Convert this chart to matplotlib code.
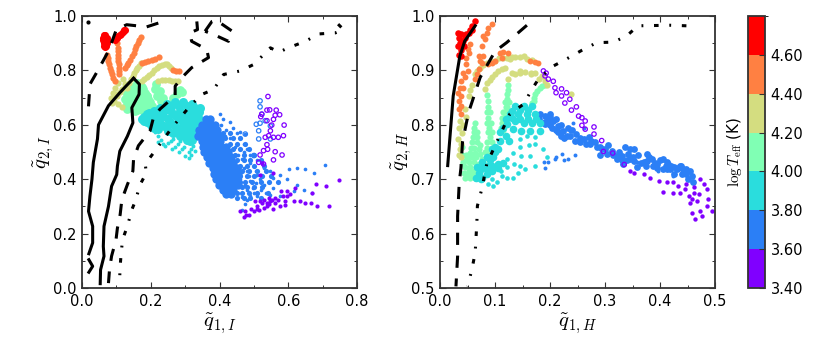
"""
q1/q2 limb darkening coefficients, I band and H band, coloured by log Teff
"""

import matplotlib
matplotlib.use("Agg")
import matplotlib.pyplot as plt
from matplotlib.cm import ScalarMappable
from matplotlib.colors import BoundaryNorm
from matplotlib.ticker import MultipleLocator, FormatStrFormatter

plt.rcParams['font.family'] = ['DejaVu Sans']
plt.rcParams['mathtext.fontset'] = 'cm'

# colour bins of log Teff
teff_edges = [3.4, 3.6, 3.8, 4.0, 4.2, 4.4, 4.6, 4.8]
teff_ticks = [3.4, 3.6, 3.8, 4.0, 4.2, 4.4, 4.6]

# ---- left panel, I band ----
i_red_x = [.063, .062, .062, .063, .065, .067, .070, .073, .073, .068, .066, .072, .097, .102, .106, .110, .114, .118, .122, .125]
i_red_y = [.930, .920, .910, .900, .890, .885, .890, .900, .920, .930, .915, .910, .910, .920, .925, .930, .935, .940, .947, .950]

i_orange_x = [.096, .091, .086, .084, .082, .079, .077, .075, .072, .108, .108, .108, .107, .106, .105, .105, .104, .104, .103,
              .125, .130, .135, .140, .145, .150, .154, .158, .162, .167, .172, .174, .184, .193, .203, .213, .224, .266, .273, .281]
i_orange_y = [.760, .772, .785, .797, .810, .822, .834, .846, .858, .785, .797, .810, .822, .834, .846, .858, .870, .883, .900,
              .810, .819, .828, .840, .852, .864, .877, .888, .900, .911, .922, .828, .831, .834, .839, .843, .850, .800, .798, .796]

i_yellow_x = [.083, .089, .096, .106, .118, .093, .106, .116, .103, .116, .088, .098, .110, .125, .132, .137, .142, .147, .151, .156, .161, .167, .172,
              .174, .181, .188, .195, .203, .210, .217, .224, .232, .240, .247, .253, .258, .222, .232, .242, .252, .261, .270, .278]
i_yellow_y = [.700, .718, .737, .755, .767, .688, .676, .667, .706, .730, .680, .712, .722, .750, .737, .752, .767, .779, .791, .800, .810, .818, .826,
              .761, .769, .777, .784, .791, .800, .810, .816, .820, .822, .822, .816, .810, .761, .763, .765, .763, .761, .761, .760]

i_green_x = [.125, .140, .159, .174, .183, .193, .203, .179, .159, .140, .130, .154, .169, .150, .169, .179, .193, .140, .132, .160, .188,
             .216, .213, .219, .229, .242, .227, .236, .266, .276, .285, .292,
             .132, .148, .165, .178, .188, .198, .190, .175, .160, .148, .135, .145, .160, .175, .150, .170, .158]
i_green_y = [.694, .730, .755, .740, .718, .694, .670, .670, .694, .682, .657, .651, .663, .712, .712, .694, .670, .710, .676, .725, .705,
             .749, .730, .706, .688, .670, .724, .697, .700, .712, .728, .722,
             .712, .740, .748, .730, .706, .682, .660, .683, .675, .690, .700, .665, .655, .655, .730, .725, .715]

i_cyan_x = [.174, .188, .208, .227, .247, .271, .295, .319, .344, .188, .213, .237, .261, .285, .310, .334, .208, .232, .256, .281, .305, .329,
            .251, .276, .300, .324, .285, .310, .329, .315,
            .181, .200, .220, .240, .260, .283, .305, .330, .200, .225, .250, .273, .298, .322, .340, .220, .244, .268, .293, .317,
            .265, .288, .312, .298, .320, .305, .335, .340, .180, .195]
i_cyan_y = [.621, .639, .651, .663, .676, .682, .685, .676, .663, .609, .621, .633, .645, .651, .651, .639, .590, .599, .609, .621, .623, .615,
            .578, .587, .594, .590, .560, .566, .560, .541,
            .615, .630, .645, .655, .665, .668, .668, .660, .600, .610, .620, .633, .637, .633, .648, .585, .592, .600, .607, .607,
            .570, .572, .578, .560, .545, .545, .600, .620, .630, .645]

i_cyan_tail_x = [.213, .222, .230, .222, .237, .242, .250, .258, .266, .261, .270, .278, .285, .281, .290, .297, .305, .300, .310, .318, .324, .310, .318, .329]
i_cyan_tail_y = [.572, .560, .545, .535, .529, .523, .532, .540, .548, .511, .520, .529, .541, .499, .510, .520, .535, .487, .500, .512, .523, .477, .488, .505]

i_blue_x = [.360, .372, .350, .362, .376, .388, .340, .352, .366, .380, .394, .338, .350, .362, .376, .390, .404, .348, .360, .374, .388, .402,
            .352, .366, .380, .394, .408, .420, .356, .370, .384, .398, .412, .426, .364, .378, .392, .406, .420, .434,
            .370, .384, .398, .412, .426, .440, .380, .394, .408, .422, .436, .450, .384, .398, .412, .426, .440, .454,
            .390, .404, .418, .432, .446, .398, .412, .426, .440, .454, .410, .424, .438, .420, .433]
i_blue_y = [.620, .620, .600, .600, .600, .600, .580, .580, .580, .580, .580, .560, .560, .560, .560, .560, .560, .540, .540, .540, .540, .540,
            .520, .520, .520, .520, .520, .520, .500, .500, .500, .500, .500, .500, .480, .480, .480, .480, .480, .480,
            .460, .460, .460, .460, .460, .460, .440, .440, .440, .440, .440, .440, .420, .420, .420, .420, .420, .420,
            .400, .400, .400, .400, .400, .380, .380, .380, .380, .380, .360, .360, .360, .345, .345]

i_blue_mid_x = [.410, .430, .415, .440, .460, .430, .450, .475, .440, .460, .485, .445, .470, .500, .450, .470, .490, .520, .460, .480, .500, .530,
                .465, .485, .510, .535, .460, .480, .500, .525, .550, .460, .475, .495, .520, .545, .570, .465, .480, .500, .525,
                .450, .465, .485, .510, .540, .450, .470, .490, .520]
i_blue_mid_y = [.570, .570, .550, .550, .550, .530, .530, .530, .510, .510, .510, .490, .490, .490, .470, .470, .470, .470, .450, .450, .450, .450,
                .430, .430, .430, .430, .410, .410, .410, .410, .410, .390, .390, .390, .390, .390, .390, .370, .370, .370, .370,
                .350, .350, .350, .350, .350, .330, .330, .330, .330]

i_blue_sparse_x = [.431, .440, .450, .460, .470, .480, .490, .410, .420, .430, .460, .475, .400, .405, .415, .425, .445, .455, .470, .465, .490, .510, .530,
                   .480, .509, .548, .625, .708, .674, .650, .601, .575, .555, .528, .497, .517, .555, .595, .625, .670, .645, .616, .575, .546, .509, .480, .465, .475, .500,
                   .470, .485, .460, .475, .490, .505, .520, .535, .490, .505, .520, .450, .465, .480]
i_blue_sparse_y = [.610, .590, .570, .550, .530, .510, .490, .620, .580, .550, .572, .566, .640, .600, .560, .520, .520, .490, .500, .474, .460, .470, .440,
                   .430, .417, .430, .442, .452, .423, .436, .436, .417, .405, .380, .368, .400, .368, .400, .380, .350, .362, .356, .337, .343, .337, .325, .288, .307, .350,
                   .440, .410, .400, .380, .395, .385, .360, .350, .340, .430, .415, .350, .335, .360]

i_blue_ring_x = [.518, .518, .523, .507, .518, .533, .548, .514, .514, .548, .475, .500]
i_blue_ring_y = [.688, .666, .639, .602, .606, .615, .596, .578, .548, .548, .566, .487]

i_purple_ring_x = [.541, .538, .546, .565, .520, .523, .562, .575, .557, .538, .552, .588, .548, .543, .533, .557, .571, .586, .538, .528, .562, .582, .514, .528, .557, .518, .540]
i_purple_ring_y = [.704, .654, .655, .654, .630, .639, .635, .637, .620, .615, .599, .599, .578, .560, .554, .554, .554, .560, .527, .505, .501, .489, .462, .456, .471, .489, .510]

i_purple_x = [.470, .485, .460, .500, .514, .510, .523, .538, .548, .562, .571, .591, .595, .580, .595, .616, .633, .620, .649, .669, .666, .684, .718, .682, .710, .747,
              .528, .519, .556, .538, .475, .504, .519, .556, .524, .510, .530, .575, .560, .545, .590, .478, .492, .543, .553, .585, .606]
i_purple_y = [.261, .270, .282, .282, .288, .300, .313, .313, .319, .313, .325, .319, .337, .356, .356, .319, .319, .368, .313, .350, .313, .300, .300, .384, .374, .396,
              .325, .319, .292, .300, .282, .319, .417, .423, .460, .290, .295, .300, .330, .330, .305, .268, .290, .308, .322, .340, .345]

i_solid1_x = [.150, .130, .110, .077, .048, .045, .033, .029, .023, .019, .031, .031, .020]
i_solid1_y = [.771, .745, .718, .670, .600, .548, .462, .400, .337, .282, .227, .166, .126]
i_solid1b_x = [.020, .031, .020]
i_solid1b_y = [.104, .080, .058]
i_solid2_x = [.150, .167, .166, .145, .148, .132, .110, .103, .101, .086, .077, .064, .062, .064, .054, .053]
i_solid2_y = [.771, .749, .712, .663, .607, .558, .503, .448, .417, .374, .300, .227, .153, .117, .067, .016]

i_dash1_x = [.222, .188, .130, .100, .077, .048, .023, .021, .018]
i_dash1_y = [.974, .960, .968, .950, .871, .804, .749, .707, .652]
i_dash2_x = [.334, .336, .314, .319, .363, .368, .319, .290, .271, .271, .227, .208, .198, .164, .150, .148, .132, .116, .111, .103, .099, .086, .080, .077]
i_dash2_y = [.980, .950, .938, .907, .877, .847, .810, .773, .742, .707, .658, .627, .578, .523, .474, .430, .380, .325, .270, .220, .178, .117, .067, .018]
i_dash3_x = [.358, .378, .390, .436, .426, .395, .358]
i_dash3_y = [.944, .980, .985, .945, .907, .925, .944]

i_dots_x = [.745, .761, .737, .688, .650, .600, .573, .548, .500, .460, .412, .383, .349, .315, .262, .213, .184, .187, .169, .155, .145, .132, .118, .114, .111, .109]
i_dots_y = [.970, .950, .938, .934, .907, .883, .867, .883, .822, .798, .785, .730, .712, .670, .590, .505, .456, .423, .380, .319, .288, .227, .178, .129, .080, .018]

# ---- right panel, H band ----
h_red_x = [.033, .035, .039, .036, .041, .033, .038, .035, .039, .045, .052, .055, .059, .064, .048, .058, .043]
h_red_y = [.969, .960, .966, .951, .954, .945, .938, .929, .926, .960, .969, .975, .982, .990, .966, .975, .945]

h_orange_x = [.038, .035, .039, .035, .038, .033, .036, .042, .039, .045, .042, .050, .048, .048, .052, .050, .055,
              .064, .067, .070, .076, .073, .079, .070, .076, .082, .079, .085, .088, .094,
              .088, .100, .112, .109, .123, .115, .094, .164, .173, .179]
h_orange_y = [.820, .829, .835, .844, .853, .859, .868, .868, .880, .887, .896, .899, .911, .923, .932, .940, .948,
              .884, .893, .902, .914, .917, .927, .927, .945, .957, .963, .969, .978, .986,
              .911, .917, .923, .932, .932, .934, .914, .918, .915, .914]

h_yellow_x = [.036, .033, .035, .036, .045, .052, .058, .064, .073, .085, .115, .127, .145, .158, .167, .040, .038, .042, .048, .100, .130, .152,
              .082, .085, .094, .106, .118, .124, .136, .155, .173, .185, .194, .238, .034, .039, .130, .146, .165,
              .055, .068, .079, .092, .108, .122, .137, .090, .100, .112, .145, .165, .180, .190]
h_yellow_y = [.755, .774, .795, .807, .829, .853, .874, .893, .905, .914, .923, .921, .925, .921, .919, .785, .765, .800, .815, .917, .925, .926,
              .865, .877, .887, .899, .905, .884, .893, .897, .895, .890, .874, .857, .745, .740, .896, .898, .896,
              .864, .899, .910, .918, .922, .923, .925, .882, .893, .902, .895, .893, .885, .880]

h_green_x = [.064, .061, .067, .058, .067, .073, .055, .064, .073, .052, .061, .070, .079, .042, .042, .052, .061, .045, .055, .064, .047,
             .088, .085, .091, .085, .092, .088, .094, .085, .094, .090,
             .124, .122, .118, .126, .115, .122, .112, .173, .182, .191, .170, .167,
             .062, .068, .060, .056, .070, .062, .050, .058, .066, .076, .045, .055, .065, .048, .043, .050, .058, .068, .040, .040,
             .087, .088, .089, .090, .086, .094, .082, .090, .086,
             .124, .121, .122, .118, .120, .113, .110, .115, .186, .177, .171, .168]
h_green_y = [.804, .786, .786, .768, .768, .762, .749, .749, .746, .731, .731, .728, .731, .731, .728, .715, .715, .703, .703, .703, .745,
             .844, .823, .823, .804, .804, .786, .786, .768, .768, .750,
             .874, .856, .841, .841, .823, .826, .804, .856, .868, .874, .844, .835,
             .795, .777, .777, .758, .755, .758, .740, .740, .740, .738, .722, .722, .722, .735, .712, .708, .708, .710, .745, .760,
             .833, .813, .795, .777, .757, .757, .750, .740, .855,
             .864, .848, .833, .815, .832, .812, .795, .790, .872, .862, .850, .840]

h_cyan_x = [.136, .152, .167, .127, .142, .158, .173, .182, .167, .152, .136, .121, .109, .109, .094, .106, .085, .097, .076, .067, .088, .164, .182, .148, .133,
            .065, .077, .086, .074, .094, .106, .120, .126,
            .130, .145, .160, .120, .130, .145, .160, .175, .115, .100, .100, .090, .080, .070, .075, .085, .095, .105, .115]
h_cyan_y = [.835, .835, .835, .820, .820, .820, .820, .804, .804, .804, .807, .801, .786, .771, .755, .755, .740, .740, .731, .722, .725, .789, .789, .789, .792,
            .703, .703, .718, .718, .725, .728, .780, .770,
            .825, .828, .828, .810, .812, .810, .810, .810, .795, .760, .750, .735, .722, .712, .700, .710, .715, .720, .730]

h_cyan_sparse_x = [.088, .097, .104, .112, .122, .132, .142, .155, .173, .121, .135, .145, .158, .173, .145, .145, .161, .173, .133, .148, .164, .121, .188, .194, .095, .110]
h_cyan_sparse_y = [.691, .688, .695, .706, .703, .703, .712, .718, .725, .722, .728, .725, .780, .777, .774, .759, .762, .765, .749, .743, .743, .737, .755, .740, .700, .715]

h_blue_x = [.182, .191, .197, .206, .215, .191, .203, .224, .233, .215, .236, .248, .261, .270, .273, .282, .294, .306, .312, .303, .321, .336, .342, .352, .345,
            .376, .385, .370, .406, .415, .412, .439, .448, .321, .333, .352, .376, .388, .412, .418, .406, .430, .442, .448, .458, .436, .358,
            .200, .212, .225, .255, .290, .330, .395, .425,
            .190, .200, .210, .220, .230, .240, .245, .255, .265, .275, .285, .290, .300, .315, .325, .330, .340, .345, .350, .360, .365, .375,
            .380, .390, .395, .400, .410, .420, .425, .432, .440, .450, .455, .460, .200, .210, .180, .220]
h_blue_y = [.820, .816, .807, .807, .798, .801, .795, .789, .795, .786, .780, .783, .774, .777, .765, .768, .755, .762, .752, .746, .743, .759, .746, .755, .737,
            .746, .737, .731, .737, .728, .719, .725, .719, .737, .728, .734, .734, .725, .731, .718, .718, .718, .718, .709, .706, .725, .722,
            .815, .790, .775, .768, .760, .742, .728, .722,
            .805, .800, .790, .800, .780, .790, .770, .775, .765, .770, .760, .745, .755, .745, .750, .735, .735, .755, .740, .745, .730, .725,
            .740, .730, .720, .735, .725, .725, .710, .720, .710, .700, .715, .695, .820, .810, .810, .780]

h_blue_sparse_x = [.197, .210, .225, .245, .209, .221, .190, .189, .233, .242, .236, .261, .358, .330, .397, .424]
h_blue_sparse_y = [.731, .740, .735, .745, .737, .746, .720, .731, .737, .804, .789, .795, .731, .728, .715, .706]

h_purple_ring_x = [.188, .193, .197, .206, .209, .221, .211, .230, .221, .236, .227, .248, .239, .252, .258, .264, .258, .264, .280, .280, .294, .297, .314, .335, .191]
h_purple_ring_y = [.899, .895, .884, .880, .868, .866, .859, .859, .853, .847, .840, .833, .827, .816, .813, .807, .799, .792, .796, .783, .771, .751, .748, .727, .890]

h_purple_x = [.345, .352, .370, .382, .399, .412, .424, .406, .424, .436, .433, .448, .461, .473, .480, .485, .445, .452, .458, .467, .455, .458, .464, .473, .476, .488, .485, .494, .470, .461]
h_purple_y = [.715, .712, .709, .703, .697, .694, .694, .677, .675, .675, .688, .691, .685, .700, .691, .682, .682, .669, .663, .660, .657, .638, .626, .642, .632, .663, .651, .642, .672, .675]

h_solid_x = [.064, .045, .036, .024, .014]
h_solid_y = [.982, .954, .926, .853, .725]
h_dash_x = [.158, .142, .121, .100, .073, .052, .041, .038, .035, .032, .032, .029]
h_dash_y = [.983, .969, .951, .935, .887, .823, .769, .720, .694, .632, .558, .503]
h_dots_x = [.448, .418, .360, .339, .315, .285, .258, .230, .206, .179, .167, .152, .127, .103, .085, .076, .068, .067, .064, .058, .050]
h_dots_y = [.982, .983, .982, .963, .952, .951, .937, .921, .908, .884, .865, .838, .820, .768, .728, .682, .651, .620, .565, .534, .503]

cmap = plt.get_cmap('rainbow', 7)
norm = BoundaryNorm(teff_edges, cmap.N)


def teff_color(teff):
    return cmap(norm(teff))


def ring(ax, x, y, teff, s=10):
    # open circles, the low gravity end of the grid
    ax.scatter(x, y, s=s, facecolors='none', edgecolors=[teff_color(teff)], linewidths=0.9, zorder=3)


def dots(ax, x, y, teff, s):
    ax.scatter(x, y, s=s, color=[teff_color(teff)], linewidths=0, zorder=2)


def style_axes(ax, xmajor, xminor, ymajor, yminor):
    ax.xaxis.set_major_locator(MultipleLocator(xmajor))
    ax.xaxis.set_minor_locator(MultipleLocator(xminor))
    ax.yaxis.set_major_locator(MultipleLocator(ymajor))
    ax.yaxis.set_minor_locator(MultipleLocator(yminor))
    ax.tick_params(which='both', direction='in', top=True, right=True, color='#333333')
    ax.tick_params(which='major', length=4, width=0.8, labelsize=10.5, pad=4)
    ax.tick_params(which='minor', length=2, width=0.7)
    for spine in ax.spines.values():
        spine.set_linewidth(1.3)
        spine.set_color('#333333')


fig = plt.figure(figsize=(8.3, 3.4), dpi=100)
ax1 = fig.add_axes([82 / 830, 1 - 288 / 340, 275 / 830, 272 / 340])
ax2 = fig.add_axes([440 / 830, 1 - 288 / 340, 275 / 830, 272 / 340])
cax = fig.add_axes([748 / 830, 1 - 288 / 340, 17 / 830, 272 / 340])

# left panel
dots(ax1, i_blue_sparse_x, i_blue_sparse_y, 3.7, 7)
dots(ax1, i_cyan_tail_x, i_cyan_tail_y, 3.9, 8)
dots(ax1, i_green_x, i_green_y, 4.1, 40)
dots(ax1, i_yellow_x, i_yellow_y, 4.3, 20)
dots(ax1, i_orange_x, i_orange_y, 4.5, 20)
dots(ax1, i_red_x, i_red_y, 4.7, 26)
dots(ax1, i_cyan_x, i_cyan_y, 3.9, 42)
dots(ax1, i_blue_mid_x, i_blue_mid_y, 3.7, 14)
dots(ax1, i_blue_x, i_blue_y, 3.7, 36)
ring(ax1, i_blue_ring_x, i_blue_ring_y, 3.7)
ring(ax1, i_purple_ring_x, i_purple_ring_y, 3.5)
dots(ax1, i_purple_x, i_purple_y, 3.5, 9)

ax1.plot(i_solid1_x, i_solid1_y, color='k', lw=2.2, zorder=5)
ax1.plot(i_solid1b_x, i_solid1b_y, color='k', lw=2.2, zorder=5)
ax1.plot(i_solid2_x, i_solid2_y, color='k', lw=2.2, zorder=5)
for x, y in [(i_dash1_x, i_dash1_y), (i_dash2_x, i_dash2_y), (i_dash3_x, i_dash3_y)]:
    ax1.plot(x, y, color='k', lw=2.2, ls=(0, (4, 3.5)), zorder=5)
ax1.plot(i_dots_x, i_dots_y, color='k', lw=2.2, ls=(0, (1.5, 3.5, 0.6, 3.5)), zorder=5)
ax1.plot([.018], [.978], 'k.', ms=4, zorder=5)

ax1.set_xlim(0, 0.8)
ax1.set_ylim(0, 1.0)
ax1.set_xlabel(r'$\tilde{q}_{1,I}$', fontsize=15, labelpad=2)
ax1.set_ylabel(r'$\tilde{q}_{2,I}$', fontsize=15, labelpad=-2)
style_axes(ax1, 0.2, 0.1, 0.2, 0.1)

# right panel
dots(ax2, h_blue_sparse_x, h_blue_sparse_y, 3.7, 8)
dots(ax2, h_cyan_sparse_x, h_cyan_sparse_y, 3.9, 11)
dots(ax2, h_green_x, h_green_y, 4.1, 20)
dots(ax2, h_blue_x, h_blue_y, 3.7, 24)
dots(ax2, h_cyan_x, h_cyan_y, 3.9, 30)
dots(ax2, h_yellow_x, h_yellow_y, 4.3, 20)
dots(ax2, h_orange_x, h_orange_y, 4.5, 18)
dots(ax2, h_red_x, h_red_y, 4.7, 22)
ring(ax2, h_purple_ring_x, h_purple_ring_y, 3.5)
dots(ax2, h_purple_x, h_purple_y, 3.5, 10)

ax2.plot(h_solid_x, h_solid_y, color='k', lw=2.2, zorder=5)
ax2.plot(h_dash_x, h_dash_y, color='k', lw=2.2, ls=(0, (4, 3.5)), zorder=5)
ax2.plot(h_dots_x, h_dots_y, color='k', lw=2.2, ls=(0, (1.5, 3.5, 0.6, 3.5)), zorder=5)

ax2.set_xlim(0, 0.5)
ax2.set_ylim(0.5, 1.0)
ax2.set_xlabel(r'$\tilde{q}_{1,H}$', fontsize=15, labelpad=2)
ax2.set_ylabel(r'$\tilde{q}_{2,H}$', fontsize=15, labelpad=-2)
style_axes(ax2, 0.1, 0.05, 0.1, 0.05)

# colour bar
cb = fig.colorbar(ScalarMappable(norm=norm, cmap=cmap), cax=cax, ticks=teff_ticks, spacing='proportional')
cb.ax.yaxis.set_major_formatter(FormatStrFormatter('%.2f'))
cb.ax.tick_params(direction='in', length=4, width=0.8, labelsize=10.5, color='#333333', pad=4)
cb.ax.yaxis.set_label_position('left')
cb.set_label(r'$\log T_{\rm eff}$ (K)', fontsize=11, labelpad=3)
cb.outline.set_linewidth(1.3)
cb.outline.set_edgecolor('#333333')

fig.savefig('out.png', dpi=100)
